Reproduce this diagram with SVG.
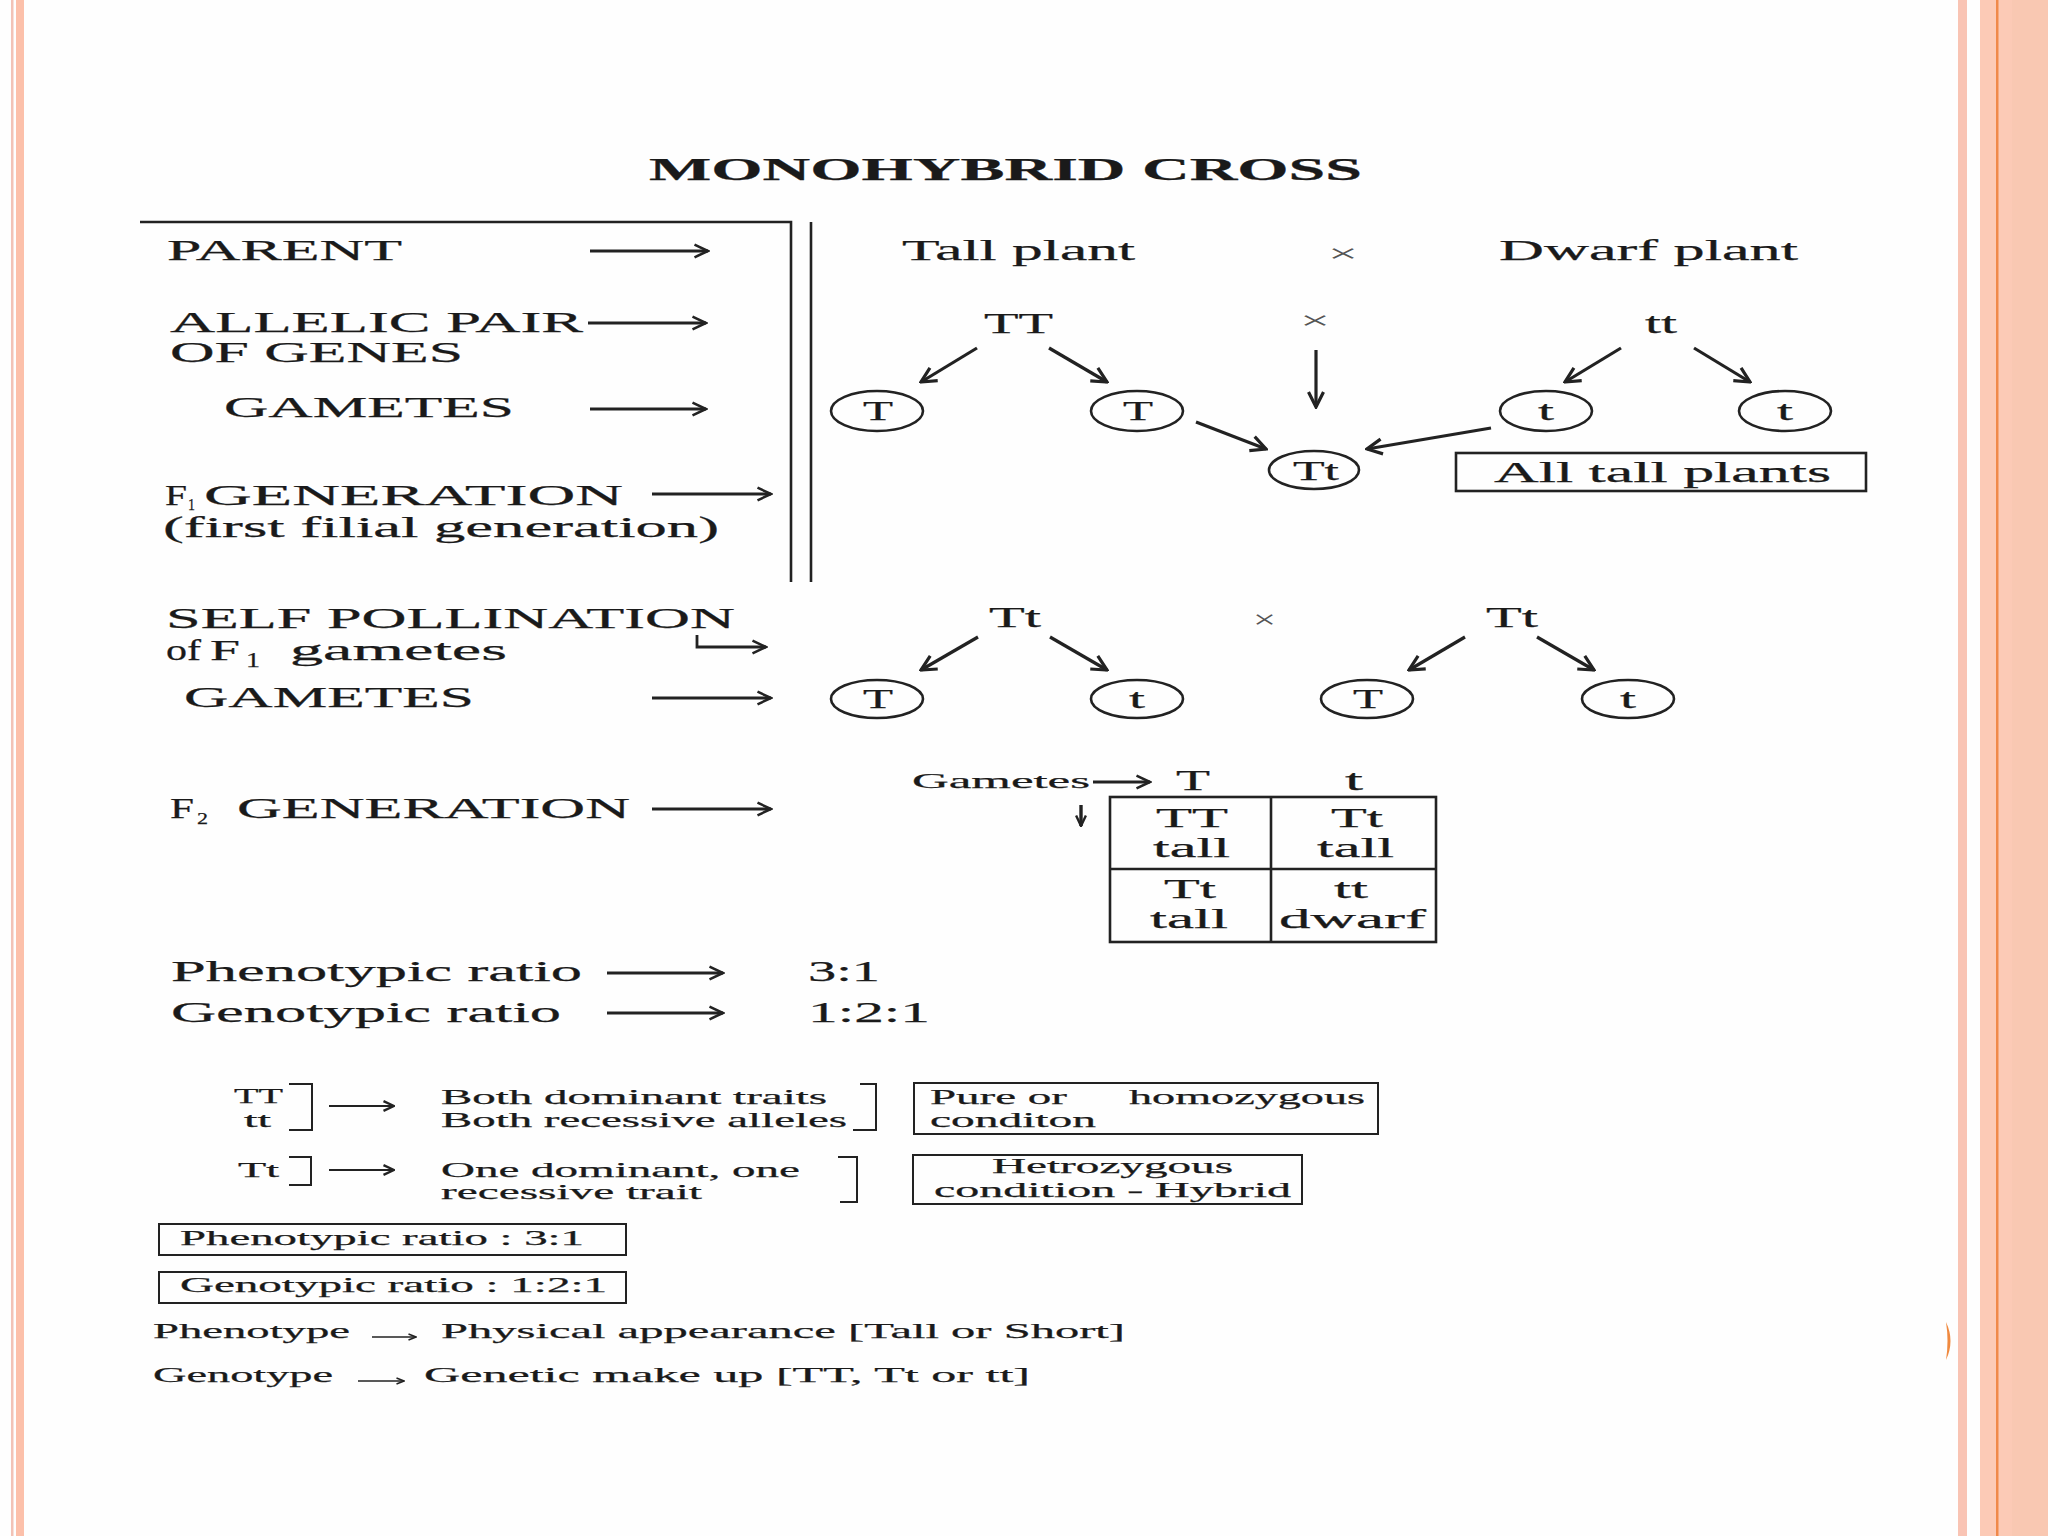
<svg xmlns="http://www.w3.org/2000/svg" width="2048" height="1536" viewBox="0 0 2048 1536">
<defs>
<style>
text{font-family:"Liberation Serif","Times New Roman",serif;fill:#1a1a1a;stroke:#1a1a1a;stroke-width:0.25}
.lb{font-size:29px}
.md{font-size:27px}
.sm{font-size:22px}
.xs{font-size:21px}
.sub{font-size:17px}
.ttl{font-size:31px;font-weight:bold}
.cross{font-size:26px;fill:#555;stroke:none}
.ln{stroke:#222;stroke-width:2.6;fill:none}
.thin{stroke:#222;stroke-width:2;fill:none}
.el{stroke:#222;stroke-width:2.6;fill:none}
.a{stroke:#222;stroke-width:2.8;fill:none;marker-end:url(#ah)}
.ab{stroke:#222;stroke-width:3.2;fill:none;marker-end:url(#ahb)}
.as{stroke:#222;stroke-width:2.2;fill:none;marker-end:url(#ahs)}
.ad{stroke:#222;stroke-width:3.4;fill:none;marker-end:url(#ahs)}
.at{stroke:#222;stroke-width:1.6;fill:none;marker-end:url(#aht)}
</style>
<marker id="ah" viewBox="0 0 20 20" refX="18" refY="10" markerWidth="18" markerHeight="18" markerUnits="userSpaceOnUse" orient="auto"><path d="M3,3 L18,10 L3,17" fill="none" stroke="#222" stroke-width="2.8"/></marker>
<marker id="ahb" viewBox="0 0 20 20" refX="18" refY="10" markerWidth="20" markerHeight="20" markerUnits="userSpaceOnUse" orient="auto"><path d="M3,2.5 L18,10 L3,17.5" fill="none" stroke="#222" stroke-width="3.2"/></marker>
<marker id="ahs" viewBox="0 0 20 20" refX="18" refY="10" markerWidth="14" markerHeight="14" markerUnits="userSpaceOnUse" orient="auto"><path d="M3,3 L18,10 L3,17" fill="none" stroke="#222" stroke-width="3.4"/></marker>
<marker id="aht" viewBox="0 0 20 20" refX="18" refY="10" markerWidth="10" markerHeight="10" markerUnits="userSpaceOnUse" orient="auto"><path d="M3,4 L18,10 L3,16" fill="none" stroke="#222" stroke-width="3"/></marker>
</defs>
<rect x="0" y="0" width="2048" height="1536" fill="#fefefe"/>
<g id="border">
<rect x="11" y="0" width="2.5" height="1536" fill="#f2c2b6"/>
<rect x="16" y="0" width="8" height="1536" fill="#fcc0aa"/>
<rect x="1958" y="0" width="9" height="1536" fill="#f9c4b4"/>
<rect x="1980" y="0" width="68" height="1536" fill="#fccab6"/>
<rect x="2012" y="0" width="36" height="1536" fill="#f9c8b2"/>
<rect x="1996" y="0" width="2.5" height="1536" fill="#f0894a"/>
<path d="M1946,1322 Q1955,1341 1946,1360 Q1949,1341 1946,1322 Z" fill="#f08a40"/>
</g>
<g id="title"><text class="ttl" x="649" y="180" textLength="713" lengthAdjust="spacingAndGlyphs">MONOHYBRID CROSS</text></g>
<g id="frame">
<path class="ln" d="M140,222 H791 V582"/>
<path class="ln" d="M811,222 V582"/>
</g>
<g id="labels">
<text class="lb" x="167" y="260" textLength="235" lengthAdjust="spacingAndGlyphs">PARENT</text>
<text class="lb" x="170" y="332" textLength="413" lengthAdjust="spacingAndGlyphs">ALLELIC PAIR</text>
<text class="lb" x="170" y="362" textLength="293" lengthAdjust="spacingAndGlyphs">OF GENES</text>
<text class="lb" x="224" y="417" textLength="290" lengthAdjust="spacingAndGlyphs">GAMETES</text>
<text class="lb" x="165" y="505" textLength="22" lengthAdjust="spacingAndGlyphs">F</text>
<text class="sub" x="188" y="510" textLength="7" lengthAdjust="spacingAndGlyphs">1</text>
<text class="lb" x="204" y="505" textLength="419" lengthAdjust="spacingAndGlyphs">GENERATION</text>
<text class="lb" x="163" y="537" textLength="556" lengthAdjust="spacingAndGlyphs">(first filial generation)</text>
<text class="lb" x="166" y="628" textLength="569" lengthAdjust="spacingAndGlyphs">SELF POLLINATION</text>
<text class="lb" x="166" y="660" textLength="35" lengthAdjust="spacingAndGlyphs">of</text>
<text class="lb" x="210" y="660" textLength="30" lengthAdjust="spacingAndGlyphs">F</text>
<text class="lb" x="246" y="667" textLength="14" lengthAdjust="spacingAndGlyphs" style="font-size:21px">1</text>
<text class="lb" x="290" y="660" textLength="217" lengthAdjust="spacingAndGlyphs">gametes</text>
<text class="lb" x="184" y="707" textLength="290" lengthAdjust="spacingAndGlyphs">GAMETES</text>
<text class="lb" x="170" y="818" textLength="24" lengthAdjust="spacingAndGlyphs">F</text>
<text class="sub" x="197" y="824" textLength="11" lengthAdjust="spacingAndGlyphs">2</text>
<text class="lb" x="237" y="818" textLength="393" lengthAdjust="spacingAndGlyphs">GENERATION</text>
</g>
<g id="parents">
<text class="lb" x="902" y="260" textLength="233" lengthAdjust="spacingAndGlyphs">Tall plant</text>
<text class="cross" x="1328" y="262" textLength="30" lengthAdjust="spacingAndGlyphs">×</text>
<text class="lb" x="1499" y="260" textLength="299" lengthAdjust="spacingAndGlyphs">Dwarf plant</text>
<text class="lb" x="984" y="333" textLength="69" lengthAdjust="spacingAndGlyphs">TT</text>
<text class="cross" x="1300" y="329" textLength="30" lengthAdjust="spacingAndGlyphs">×</text>
<text class="lb" x="1645" y="333" textLength="32" lengthAdjust="spacingAndGlyphs">tt</text>
</g>
<g id="gametes1">
<ellipse class="el" cx="877" cy="411" rx="46" ry="20"/><text class="md" x="863" y="420" textLength="30" lengthAdjust="spacingAndGlyphs">T</text>
<ellipse class="el" cx="1137" cy="411" rx="46" ry="20"/><text class="md" x="1123" y="420" textLength="30" lengthAdjust="spacingAndGlyphs">T</text>
<ellipse class="el" cx="1546" cy="411" rx="46" ry="20"/><text class="md" x="1538" y="420" textLength="16" lengthAdjust="spacingAndGlyphs">t</text>
<ellipse class="el" cx="1785" cy="411" rx="46" ry="20"/><text class="md" x="1777" y="420" textLength="16" lengthAdjust="spacingAndGlyphs">t</text>
</g>
<g id="f1">
<ellipse class="el" cx="1314" cy="470" rx="45" ry="19"/><text class="md" x="1293" y="480" textLength="46" lengthAdjust="spacingAndGlyphs">Tt</text>
<rect class="ln" x="1456" y="453" width="410" height="38"/>
<text class="lb" x="1494" y="482" textLength="337" lengthAdjust="spacingAndGlyphs">All tall plants</text>
</g>
<g id="f1cross">
<text class="lb" x="989" y="627" textLength="52" lengthAdjust="spacingAndGlyphs">Tt</text>
<text class="cross" x="1253" y="628" textLength="23" lengthAdjust="spacingAndGlyphs">×</text>
<text class="lb" x="1486" y="627" textLength="52" lengthAdjust="spacingAndGlyphs">Tt</text>
</g>
<g id="gametes2">
<ellipse class="el" cx="877" cy="699" rx="46" ry="19"/><text class="md" x="863" y="708" textLength="30" lengthAdjust="spacingAndGlyphs">T</text>
<ellipse class="el" cx="1137" cy="699" rx="46" ry="19"/><text class="md" x="1129" y="708" textLength="16" lengthAdjust="spacingAndGlyphs">t</text>
<ellipse class="el" cx="1367" cy="699" rx="46" ry="19"/><text class="md" x="1353" y="708" textLength="30" lengthAdjust="spacingAndGlyphs">T</text>
<ellipse class="el" cx="1628" cy="699" rx="46" ry="19"/><text class="md" x="1620" y="708" textLength="16" lengthAdjust="spacingAndGlyphs">t</text>
</g>
<g id="punnett">
<text class="sm" x="912" y="788" textLength="178" lengthAdjust="spacingAndGlyphs">Gametes</text>
<text class="lb" x="1176" y="790" textLength="34" lengthAdjust="spacingAndGlyphs">T</text>
<text class="lb" x="1345" y="790" textLength="18" lengthAdjust="spacingAndGlyphs">t</text>
<rect class="ln" x="1110" y="797" width="326" height="145"/>
<path class="ln" d="M1271,797 V942 M1110,869 H1436"/>
<text class="md" x="1156" y="827" textLength="72" lengthAdjust="spacingAndGlyphs">TT</text>
<text class="md" x="1153" y="857" textLength="77" lengthAdjust="spacingAndGlyphs">tall</text>
<text class="md" x="1331" y="827" textLength="52" lengthAdjust="spacingAndGlyphs">Tt</text>
<text class="md" x="1317" y="857" textLength="77" lengthAdjust="spacingAndGlyphs">tall</text>
<text class="md" x="1164" y="898" textLength="52" lengthAdjust="spacingAndGlyphs">Tt</text>
<text class="md" x="1150" y="928" textLength="78" lengthAdjust="spacingAndGlyphs">tall</text>
<text class="md" x="1334" y="898" textLength="34" lengthAdjust="spacingAndGlyphs">tt</text>
<text class="md" x="1279" y="928" textLength="147" lengthAdjust="spacingAndGlyphs">dwarf</text>
</g>
<g id="ratios">
<text class="lb" x="171" y="981" textLength="411" lengthAdjust="spacingAndGlyphs">Phenotypic ratio</text>
<text class="lb" x="808" y="981" textLength="72" lengthAdjust="spacingAndGlyphs">3:1</text>
<text class="lb" x="171" y="1022" textLength="390" lengthAdjust="spacingAndGlyphs">Genotypic ratio</text>
<text class="lb" x="808" y="1022" textLength="122" lengthAdjust="spacingAndGlyphs">1:2:1</text>
</g>
<g id="homozygous">
<text class="xs" x="234" y="1103" textLength="49" lengthAdjust="spacingAndGlyphs">TT</text>
<text class="xs" x="244" y="1127" textLength="27" lengthAdjust="spacingAndGlyphs">tt</text>
<path class="thin" d="M289,1084 H312 V1130 H289"/>
<text class="xs" x="441" y="1104" textLength="386" lengthAdjust="spacingAndGlyphs">Both dominant traits</text>
<text class="xs" x="441" y="1127" textLength="406" lengthAdjust="spacingAndGlyphs">Both recessive alleles</text>
<path class="thin" d="M860,1084 H876 V1130 H853"/>
<rect class="thin" x="914" y="1083" width="464" height="51"/>
<text class="xs" x="930" y="1104" textLength="137" lengthAdjust="spacingAndGlyphs">Pure or</text>
<text class="xs" x="1129" y="1104" textLength="236" lengthAdjust="spacingAndGlyphs">homozygous</text>
<text class="xs" x="930" y="1127" textLength="166" lengthAdjust="spacingAndGlyphs">conditon</text>
</g>
<g id="heterozygous">
<text class="xs" x="238" y="1177" textLength="41" lengthAdjust="spacingAndGlyphs">Tt</text>
<path class="thin" d="M289,1157 H311 V1185 H289"/>
<text class="xs" x="441" y="1177" textLength="359" lengthAdjust="spacingAndGlyphs">One dominant, one</text>
<text class="xs" x="441" y="1199" textLength="261" lengthAdjust="spacingAndGlyphs">recessive trait</text>
<path class="thin" d="M838,1157 H857 V1202 H840"/>
<rect class="thin" x="913" y="1155" width="389" height="49"/>
<text class="xs" x="992" y="1173" textLength="241" lengthAdjust="spacingAndGlyphs">Hetrozygous</text>
<text class="xs" x="934" y="1197" textLength="357" lengthAdjust="spacingAndGlyphs">condition - Hybrid</text>
</g>
<g id="summary">
<rect class="thin" x="159" y="1224" width="467" height="31"/>
<text class="xs" x="180" y="1245" textLength="404" lengthAdjust="spacingAndGlyphs">Phenotypic ratio : 3:1</text>
<rect class="thin" x="159" y="1272" width="467" height="31"/>
<text class="xs" x="180" y="1292" textLength="427" lengthAdjust="spacingAndGlyphs">Genotypic ratio : 1:2:1</text>
<text class="sm" x="153" y="1338" textLength="197" lengthAdjust="spacingAndGlyphs">Phenotype</text>
<text class="sm" x="441" y="1338" textLength="684" lengthAdjust="spacingAndGlyphs">Physical appearance [Tall or Short]</text>
<text class="sm" x="153" y="1382" textLength="180" lengthAdjust="spacingAndGlyphs">Genotype</text>
<text class="sm" x="424" y="1382" textLength="606" lengthAdjust="spacingAndGlyphs">Genetic make up [TT, Tt or tt]</text>
</g>
<g id="connectors">
<line class="a" x1="590" y1="251" x2="708" y2="251"/>
<line class="a" x1="588" y1="323" x2="706" y2="323"/>
<line class="a" x1="590" y1="409" x2="706" y2="409"/>
<line class="a" x1="652" y1="494" x2="771" y2="494"/>
<path class="a" d="M697,635 V647 H766"/>
<line class="a" x1="652" y1="698" x2="771" y2="698"/>
<line class="a" x1="652" y1="809" x2="771" y2="809"/>
<line class="ab" x1="977" y1="348" x2="921" y2="382"/>
<line class="ab" x1="1049" y1="348" x2="1107" y2="382"/>
<line class="ab" x1="1316" y1="350" x2="1316" y2="407"/>
<line class="ab" x1="1196" y1="422" x2="1266" y2="449"/>
<line class="ab" x1="1491" y1="428" x2="1367" y2="449"/>
<line class="ab" x1="1621" y1="348" x2="1565" y2="382"/>
<line class="ab" x1="1694" y1="348" x2="1750" y2="382"/>
<line class="ab" x1="978" y1="637" x2="921" y2="670"/>
<line class="ab" x1="1050" y1="637" x2="1107" y2="670"/>
<line class="ab" x1="1465" y1="637" x2="1409" y2="670"/>
<line class="ab" x1="1537" y1="637" x2="1594" y2="670"/>
<line class="a" x1="1093" y1="782" x2="1150" y2="782"/>
<line class="ad" x1="1081" y1="805" x2="1081" y2="826"/>
<line class="a" x1="607" y1="973" x2="723" y2="973"/>
<line class="a" x1="607" y1="1013" x2="723" y2="1013"/>
<line class="as" x1="329" y1="1106" x2="394" y2="1106"/>
<line class="as" x1="329" y1="1170" x2="394" y2="1170"/>
<line class="at" x1="372" y1="1337" x2="416" y2="1337"/>
<line class="at" x1="358" y1="1381" x2="404" y2="1381"/>
</g>
</svg>
